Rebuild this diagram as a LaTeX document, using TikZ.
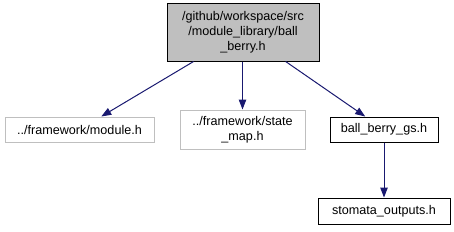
\documentclass[tikz,border=0pt]{standalone}
\usepackage{fontspec}
\setmainfont{Liberation Sans}
\usetikzlibrary{arrows.meta}
\definecolor{edgeblue}{HTML}{191970}
\definecolor{boxgray}{HTML}{BFBFBF}
\begin{document}
\begin{tikzpicture}[x=1pt,y=-1pt,
  filebox/.style={draw=black,line width=1pt,inner sep=0pt,align=center,
    font=\fontsize{12.6}{15}\selectfont},
  extbox/.style={filebox,draw=boxgray},
  mainbox/.style={filebox,fill=boxgray},
  dep/.style={draw=edgeblue,line width=1pt,-{Triangle[length=10pt,width=7.5pt]}}]
\useasboundingbox (0,0) rectangle (454,231);
\node[mainbox,minimum width=152pt,minimum height=58pt] (top) at (243,32)
  {/github/workspace/src\\/module\_library/ball\\\_berry.h};
\node[extbox,minimum width=149pt,minimum height=25pt] (module) at (79.5,129.5)
  {../framework/module.h};
\node[extbox,minimum width=125pt,minimum height=39pt] (state) at (242.5,129.5)
  {../framework/state\\\_map.h};
\node[filebox,minimum width=108pt,minimum height=25pt] (gs) at (384,129.5)
  {ball\_berry\_gs.h};
\node[filebox,minimum width=132pt,minimum height=26pt] (stom) at (384,211)
  {stomata\_outputs.h};
\draw[dep] (top) -- (module);
\draw[dep] (top.south -| state.north) -- (state.north);
\draw[dep] (top) -- (gs);
\draw[dep] (gs) -- (stom);
\end{tikzpicture}
\end{document}
